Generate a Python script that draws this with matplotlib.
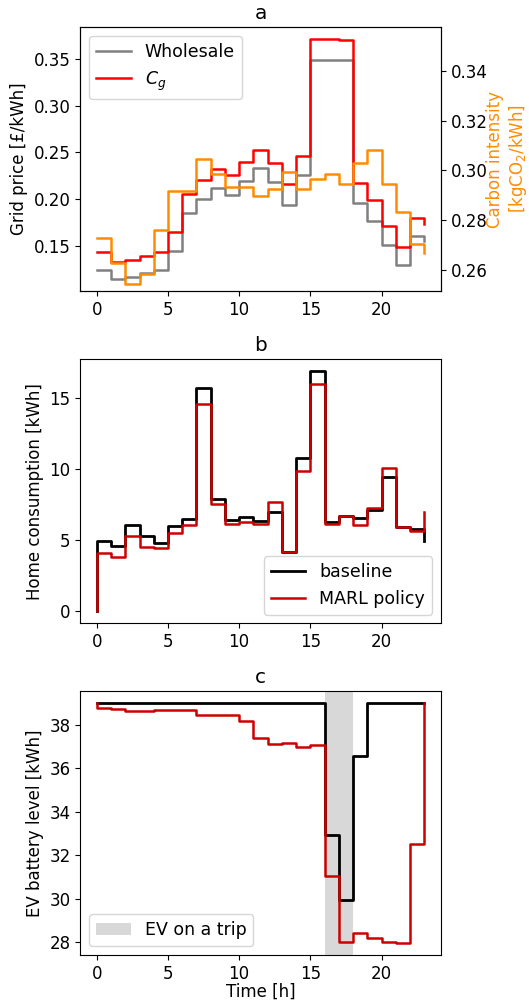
import numpy as np
import matplotlib
matplotlib.use("Agg")
import matplotlib.pyplot as plt

plt.rcParams['font.size'] = 12
plt.rcParams['legend.fontsize'] = 12.5

hours = np.arange(24)

# panel a: prices and carbon intensity
wholesale = [0.125, 0.115, 0.117, 0.121, 0.125, 0.145, 0.185, 0.200, 0.212, 0.205,
             0.220, 0.233, 0.218, 0.194, 0.226, 0.349, 0.349, 0.349, 0.196, 0.177,
             0.151, 0.130, 0.161, 0.155]
c_g = [0.144, 0.133, 0.135, 0.140, 0.144, 0.165, 0.206, 0.221, 0.232, 0.226,
       0.240, 0.253, 0.239, 0.216, 0.246, 0.371, 0.371, 0.370, 0.217, 0.199,
       0.172, 0.149, 0.180, 0.174]
carbon = [0.273, 0.2626, 0.2543, 0.2583, 0.2759, 0.2915, 0.2915, 0.3047, 0.2986, 0.2932,
          0.2932, 0.2895, 0.2923, 0.2994, 0.2923, 0.2967, 0.2984, 0.2946, 0.3030, 0.3080,
          0.2946, 0.2834, 0.2703, 0.2666]

# panel b: home consumption (first entry is the starting value)
baseline_cons = [0.0, 4.95, 4.63, 6.08, 5.30, 4.84, 6.03, 6.47, 15.70, 7.90, 6.43,
                 6.66, 6.38, 7.01, 4.20, 10.79, 16.89, 6.29, 6.71, 6.59, 7.13,
                 9.46, 5.91, 5.80, 4.95]
marl_cons = [0.0, 4.09, 3.85, 5.30, 4.56, 4.44, 5.54, 6.08, 14.56, 7.53, 6.15,
             6.31, 6.15, 7.67, 4.20, 9.88, 16.00, 6.13, 6.71, 6.10, 7.29,
             10.05, 5.91, 5.66, 7.01]

# panel c: EV battery level (first entry is the starting value)
baseline_ev = [39.0, 39.0, 39.0, 39.0, 39.0, 39.0, 39.0, 39.0, 39.0, 39.0, 39.0,
               39.0, 39.0, 39.0, 39.0, 39.0, 39.0, 32.95, 29.93, 36.55, 39.0,
               39.0, 39.0, 39.0, 39.0]
marl_ev = [39.0, 38.78, 38.73, 38.64, 38.61, 38.66, 38.66, 38.66, 38.46, 38.46, 38.44,
           38.15, 37.40, 37.13, 37.16, 37.00, 37.08, 31.04, 28.00, 28.41, 28.18,
           28.03, 27.97, 32.51, 39.0]
trip_start, trip_end = 16, 18

hours_b = np.concatenate([[0], hours])

fig = plt.figure(figsize=(5.29, 10), dpi=100)
ax1 = fig.add_axes([0.152, 0.709, 0.681, 0.264])
ax_b = fig.add_axes([0.152, 0.3767, 0.681, 0.264])
ax_c = fig.add_axes([0.152, 0.045, 0.681, 0.264])

# a
ax1.step(hours, wholesale, where='post', color='gray', lw=1.8, label='Wholesale')
ax1.step(hours, c_g, where='post', color='red', lw=1.8, label='$C_g$')
ax1.set_ylabel('Grid price [£/kWh]')
ax1.set_title('a')
ax1.legend(loc='upper left')
ax2 = ax1.twinx()
ax2.step(hours, carbon, where='post', color='darkorange', lw=1.8)
ax2.set_ylim(0.2515, 0.3576)
ax2.set_ylabel('Carbon intensity\n[kgCO$_2$/kWh]', color='darkorange', labelpad=-1)

# b
ax_b.step(hours_b, baseline_cons, where='post', color='black', lw=2, label='baseline')
ax_b.step(hours_b, marl_cons, where='post', color='#cc0000', lw=1.8, label='MARL policy')
ax_b.set_ylabel('Home consumption [kWh]')
ax_b.set_title('b')
ax_b.legend(loc='lower right')

# c
ax_c.axvspan(trip_start, trip_end, color='gray', alpha=0.3, lw=0, label='EV on a trip')
ax_c.step(hours_b, baseline_ev, where='post', color='black', lw=2)
ax_c.step(hours_b, marl_ev, where='post', color='#cc0000', lw=1.8)
ax_c.set_ylabel('EV battery level [kWh]')
ax_c.set_xlabel('Time [h]', labelpad=0)
ax_c.set_title('c')
ax_c.legend(loc='lower left')

for ax in (ax1, ax_b, ax_c):
    ax.set_xticks([0, 5, 10, 15, 20])

fig.savefig('out.png', dpi=100)
